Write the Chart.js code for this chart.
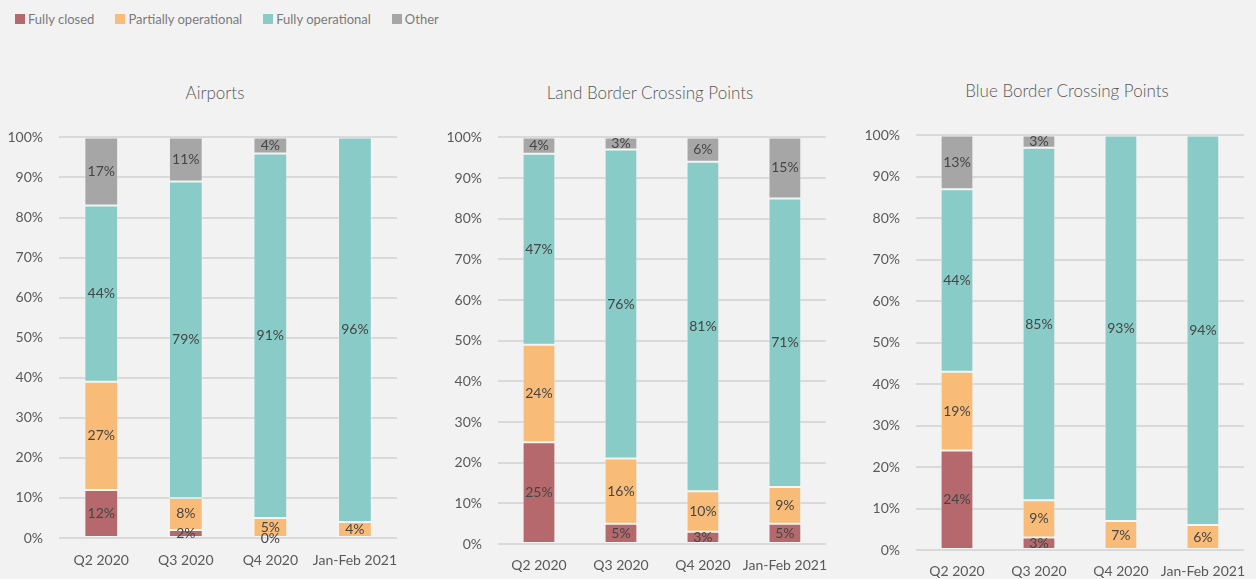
<!DOCTYPE html>
<html>
<head>
<meta charset="utf-8">
<script src="https://cdn.jsdelivr.net/npm/chart.js@4.4.1/dist/chart.umd.min.js"></script>
<style>
  html, body { margin: 0; padding: 0; background: #f2f2f2; width: 1256px; height: 579px; overflow: hidden; font-family: Lato, "Open Sans", sans-serif; }
  .abs { position: absolute; }
  #legend { position: absolute; left: 15px; top: 10px; display: flex; font-size: 13px; color: #7a7a7a; line-height: 18px; }
  #legend .item { display: flex; align-items: center; margin-right: 21px; }
  #legend .box { width: 10px; height: 10px; margin-right: 3px; }
  .title { position: absolute; font-size: 17px; color: #595959; transform: translateX(-50%); white-space: nowrap; font-weight: 300; }
</style>
</head>
<body>
<div id="legend"></div>
<div class="title" id="t1" style="left:215px; top:82px;"></div>
<div class="title" id="t2" style="left:650px; top:82px;"></div>
<div class="title" id="t3" style="left:1067px; top:80px;"></div>
<canvas id="c1" class="abs" width="411" height="466" style="left:0px; top:113px;"></canvas>
<canvas id="c2" class="abs" width="400" height="466" style="left:440px; top:113px;"></canvas>
<canvas id="c3" class="abs" width="400" height="468" style="left:858px; top:111px;"></canvas>
<script>
// ---- data ----
const categories = ['Q2 2020', 'Q3 2020', 'Q4 2020', 'Jan-Feb 2021'];
const seriesNames = ['Fully closed', 'Partially operational', 'Fully operational', 'Other'];
const seriesColors = ['#b5696c', '#f9bc78', '#89cbc7', '#a6a6a6'];
const panelTitles = ['Airports', 'Land Border Crossing Points', 'Blue Border Crossing Points'];
const yTickValues = [0, 10, 20, 30, 40, 50, 60, 70, 80, 90, 100];

const airportsClosed  = [12, 2, 0, null];
const airportsPartial = [27, 8, 5, 4];
const airportsFully   = [44, 79, 91, 96];
const airportsOther   = [17, 11, 4, null];

const landClosed  = [25, 5, 3, 5];
const landPartial = [24, 16, 10, 9];
const landFully   = [47, 76, 81, 71];
const landOther   = [4, 3, 6, 15];

const blueClosed  = [24, 3, null, null];
const bluePartial = [19, 9, 7, 6];
const blueFully   = [44, 85, 93, 94];
const blueOther   = [13, 3, null, null];

// ---- legend & titles ----
const legendEl = document.getElementById('legend');
seriesNames.forEach((n, i) => {
  const it = document.createElement('div'); it.className = 'item';
  const b = document.createElement('div'); b.className = 'box'; b.style.background = seriesColors[i];
  const s = document.createElement('span'); s.textContent = n;
  it.appendChild(b); it.appendChild(s); legendEl.appendChild(it);
});
['t1','t2','t3'].forEach((id, i) => { document.getElementById(id).textContent = panelTitles[i]; });

// ---- value labels plugin ----
const valueLabels = {
  id: 'valueLabels',
  afterDatasetsDraw(chart) {
    const ctx = chart.ctx;
    ctx.save();
    ctx.font = '14px Lato, "Open Sans", sans-serif';
    ctx.fillStyle = '#454545';
    ctx.textAlign = 'center';
    ctx.textBaseline = 'middle';
    chart.data.datasets.forEach((ds, di) => {
      const meta = chart.getDatasetMeta(di);
      meta.data.forEach((el, i) => {
        const v = ds.data[i];
        if (v === null || v === undefined) return;
        const y = (el.y + el.base) / 2;
        ctx.fillText(Math.round(v) + '%', el.x, y);
      });
    });
    ctx.restore();
  }
};

function makeChart(id, series, cfg) {
  const datasets = series.map((d, i) => ({
    label: seriesNames[i],
    data: d,
    backgroundColor: seriesColors[i],
    borderColor: 'rgba(255,255,255,0.35)',
    borderWidth: 1,
    borderSkipped: false,
    categoryPercentage: 1,
    barPercentage: 0.4
  }));
  return new Chart(document.getElementById(id), {
    type: 'bar',
    data: { labels: categories, datasets },
    plugins: [valueLabels],
    options: {
      responsive: false,
      animation: false,
      devicePixelRatio: 1,
      layout: { padding: { top: 15, left: 0, right: 0, bottom: 0 } },
      plugins: { legend: { display: false }, title: { display: false }, tooltip: { enabled: false } },
      scales: {
        x: {
          stacked: true,
          grid: { display: false, drawTicks: false },
          border: { display: false },
          ticks: { padding: cfg.xPad, color: '#595959', font: { family: 'Lato', size: 14 }, maxRotation: 0, autoSkip: false },
          afterFit(s) { s.height = cfg.xHeight; }
        },
        y: {
          stacked: true,
          min: 0, max: 100,
          afterBuildTicks(s) { s.ticks = yTickValues.map(v => ({ value: v })); },
          grid: { color: '#d9d9d9', lineWidth: 2, drawTicks: false },
          border: { display: false },
          ticks: { padding: 16, color: '#595959', font: { family: 'Lato', size: 14 }, callback: v => v + '%' },
          afterFit(s) { s.width = cfg.yWidth; }
        }
      }
    }
  });
}

makeChart('c1', [airportsClosed, airportsPartial, airportsFully, airportsOther], { xPad: 14, xHeight: 41, yWidth: 59 });
makeChart('c2', [landClosed, landPartial, landFully, landOther], { xPad: 13, xHeight: 35, yWidth: 58 });
makeChart('c3', [blueClosed, bluePartial, blueFully, blueOther], { xPad: 13, xHeight: 29, yWidth: 58 });
</script>
</body>
</html>
